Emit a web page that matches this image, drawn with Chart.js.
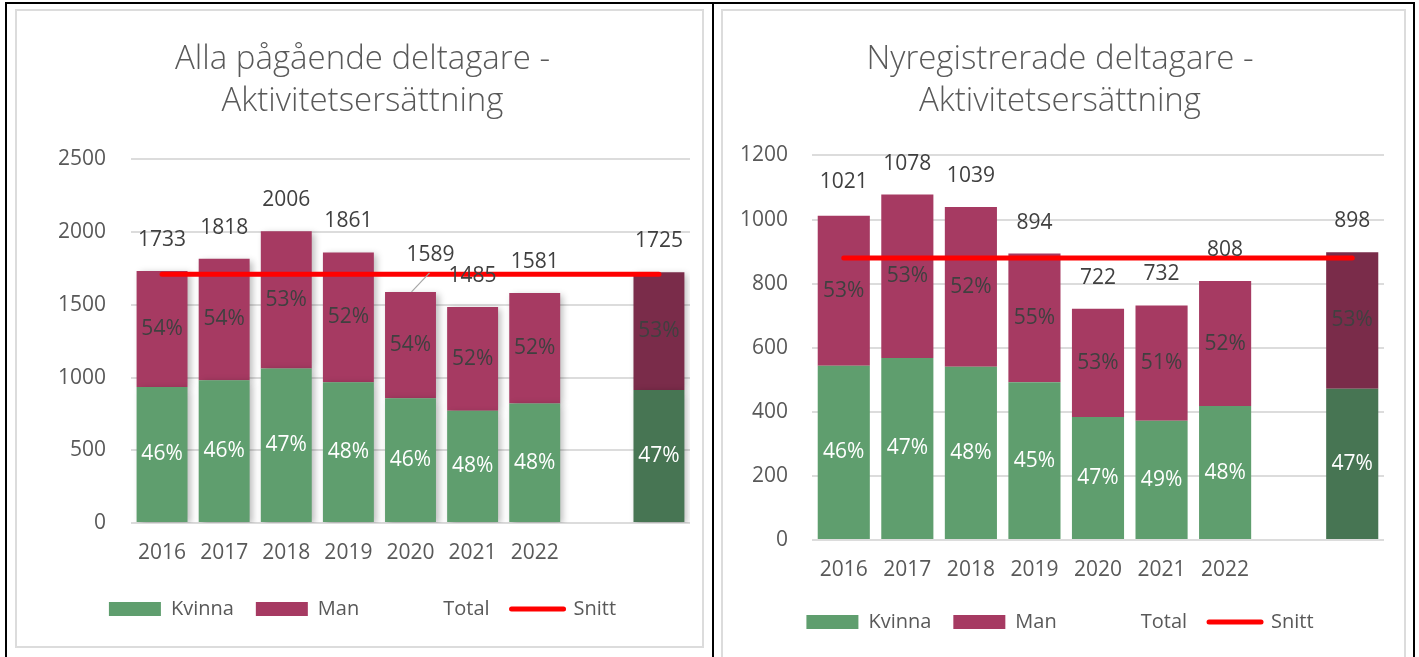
<!DOCTYPE html>
<html>
<head>
<meta charset="utf-8">
<script src="https://cdn.jsdelivr.net/npm/chart.js@4"></script>
<style>
html, body { margin: 0; padding: 0; background: #fff; overflow: hidden; width: 1419px; height: 657px; position: relative; }
.bl { position: absolute; background: #000; }
.box { position: absolute; border: 2px solid #dcdcdc; box-sizing: border-box; }
canvas { position: absolute; }
</style>
</head>
<body>
<div class="bl" style="left:5px;top:2px;width:1410px;height:2px"></div>
<div class="bl" style="left:5px;top:2px;width:2px;height:655px"></div>
<div class="bl" style="left:712px;top:2px;width:2px;height:655px"></div>
<div class="bl" style="left:1413px;top:2px;width:2px;height:655px"></div>
<div class="box" style="left:15px;top:9px;width:689px;height:639px"></div>
<div class="box" style="left:721px;top:9px;width:685px;height:670px"></div>
<canvas id="c1" width="687" height="637" style="left:16px;top:10px"></canvas>
<canvas id="c2" width="683" height="660" style="left:722px;top:10px"></canvas>
<script>
// categories (the last, unlabeled one is the average bar)
const years = ['2016', '2017', '2018', '2019', '2020', '2021', '2022', '', ''];

// Alla pågående deltagare
const kvinnaA = [936, 982, 1063, 968, 858, 772, 822, null, 914];
const manA = [797, 836, 943, 893, 731, 713, 759, null, 811];
const totalA = [1733, 1818, 2006, 1861, 1589, 1485, 1581, null, 1725];
const snittA = [1710, 1710, 1710, 1710, 1710, 1710, 1710, 1710, 1710];
const kvinnaPctA = ['46%', '46%', '47%', '48%', '46%', '48%', '48%', '', '47%'];
const manPctA = ['54%', '54%', '53%', '52%', '54%', '52%', '52%', '', '53%'];

// Nyregistrerade deltagare
const kvinnaN = [544, 568, 541, 492, 384, 372, 418, null, 472];
const manN = [468, 510, 498, 402, 338, 360, 390, null, 426];
const totalN = [1021, 1078, 1039, 894, 722, 732, 808, null, 898];
const snittN = [880, 880, 880, 880, 880, 880, 880, 880, 880];
const kvinnaPctN = ['46%', '47%', '48%', '45%', '47%', '49%', '48%', '', '47%'];
const manPctN = ['53%', '53%', '52%', '55%', '53%', '51%', '52%', '', '53%'];

const GREEN = '#5F9E6E', GREEN_DARK = '#477553';
const MAROON = '#A63A62', MAROON_DARK = '#7A2C4A';
const FONT = 'Open Sans';

const legendColors = { Kvinna: GREEN, Man: MAROON, Total: 'rgba(0,0,0,0)', Snitt: '#FF0000' };

const labelPlugin = {
  id: 'barLabels',
  afterDatasetsDraw(chart, args, opts) {
    const ctx = chart.ctx;
    const ys = chart.scales.y, xs = chart.scales.x;
    ctx.save();
    ctx.font = '21px "' + FONT + '"';
    ctx.textAlign = 'center';
    ctx.textBaseline = 'middle';
    [[0, opts.kvPct, '#ffffff'], [1, opts.manPct, '#404040']].forEach(([di, txt, col]) => {
      chart.getDatasetMeta(di).data.forEach((bar, i) => {
        if (!txt[i]) return;
        ctx.fillStyle = col;
        ctx.fillText(txt[i], bar.x, (bar.y + bar.base) / 2);
      });
    });
    opts.totals.forEach((v, i) => {
      if (v == null) return;
      const x = xs.getPixelForValue(i);
      const top = ys.getPixelForValue(v);
      const sh = (opts.shift && opts.shift[i]) || [0, 0];
      const lx = x + sh[0], ly = top - 31 + sh[1];
      if (sh[0]) {
        ctx.strokeStyle = '#a6a6a6';
        ctx.lineWidth = 1.2;
        ctx.beginPath();
        ctx.moveTo(x + 1, top);
        ctx.lineTo(lx - 1, ly + 18);
        ctx.stroke();
      }
      ctx.fillStyle = '#404040';
      ctx.fillText(String(v), lx, ly);
    });
    ctx.restore();
  }
};

const shadowPlugin = {
  id: 'barShadow',
  beforeDatasetDraw(chart, args) {
    if (args.meta.type !== 'bar') return;
    const ctx = chart.ctx;
    ctx.save();
    ctx.shadowColor = 'rgba(0,0,0,0.28)';
    ctx.shadowBlur = 7;
    ctx.shadowOffsetX = 3;
    ctx.shadowOffsetY = 2;
  },
  afterDatasetDraw(chart, args) {
    if (args.meta.type !== 'bar') return;
    chart.ctx.restore();
  }
};

function makeChart(id, o) {
  const ctx = document.getElementById(id).getContext('2d');
  return new Chart(ctx, {
    type: 'bar',
    data: {
      labels: years,
      datasets: [
        {
          label: 'Kvinna', data: o.kvinna, stack: 'bars', order: 1,
          backgroundColor: [GREEN, GREEN, GREEN, GREEN, GREEN, GREEN, GREEN, GREEN, GREEN_DARK],
          barPercentage: 0.82, categoryPercentage: 1
        },
        {
          label: 'Man', data: o.man, stack: 'bars', order: 1,
          backgroundColor: [MAROON, MAROON, MAROON, MAROON, MAROON, MAROON, MAROON, MAROON, MAROON_DARK],
          barPercentage: 0.82, categoryPercentage: 1
        },
        {
          type: 'line', label: 'Total', data: o.total, stack: 'total', order: 2,
          showLine: false, pointRadius: 0, borderWidth: 0, borderColor: 'rgba(0,0,0,0)'
        },
        {
          type: 'line', label: 'Snitt', data: o.snitt, stack: 'snitt', order: 0,
          borderColor: '#FF0000', borderWidth: 5, pointRadius: 0, borderCapStyle: 'round',
          spanGaps: true
        }
      ]
    },
    options: {
      responsive: false,
      animation: false,
      layout: { padding: { left: o.padLeft, right: o.padRight, top: 0, bottom: o.padBottom } },
      plugins: {
        title: {
          display: true,
          text: o.title,
          color: '#595959',
          font: { family: FONT, size: 33, weight: '300', lineHeight: 1.28 },
          padding: { top: 28, bottom: o.titleGap }
        },
        legend: {
          position: 'bottom',
          labels: {
            usePointStyle: true,
            pointStyleWidth: 52,
            boxHeight: 14,
            padding: 22,
            color: '#595959',
            font: { family: FONT, size: 20 },
            generateLabels: chart => chart.data.datasets.map((ds, i) => ({
              text: ds.label,
              datasetIndex: i,
              fontColor: '#595959',
              fillStyle: legendColors[ds.label],
              strokeStyle: legendColors[ds.label],
              lineWidth: ds.label === 'Snitt' ? 5 : 0,
              lineCap: 'round',
              pointStyle: ds.label === 'Snitt' ? 'line' : 'rect',
              hidden: false
            }))
          }
        },
        tooltip: { enabled: false },
        barLabels: { kvPct: o.kvPct, manPct: o.manPct, totals: o.total, shift: o.shift }
      },
      scales: {
        x: {
          stacked: true,
          grid: { display: false },
          border: { display: false },
          ticks: { color: '#595959', font: { family: FONT, size: 21 }, padding: 9, maxRotation: 0, autoSkip: false },
          afterFit: s => { s.height = o.xHeight; }
        },
        y: {
          stacked: true,
          min: 0,
          max: o.max,
          grid: { color: '#dcdcdc', lineWidth: 2, drawTicks: false },
          border: { display: false },
          ticks: {
            stepSize: o.step, color: '#595959', font: { family: FONT, size: 21 }, padding: o.yPad,
            callback: v => String(v)
          },
          afterFit: s => { s.width = o.yWidth; }
        }
      }
    },
    plugins: o.plugins
  });
}

makeChart('c1', {
  title: ['Alla pågående deltagare -', 'Aktivitetsersättning'],
  kvinna: kvinnaA, man: manA, total: totalA, snitt: snittA,
  kvPct: kvinnaPctA, manPct: manPctA,
  shift: { 4: [20, -6] },
  max: 2500, step: 500,
  padLeft: 19, padRight: 13, padBottom: 18, titleGap: 37, xHeight: 54, yWidth: 96, yPad: 25,
  plugins: [shadowPlugin, labelPlugin]
});

makeChart('c2', {
  title: ['Nyregistrerade deltagare -', 'Aktivitetsersättning'],
  kvinna: kvinnaN, man: manN, total: totalN, snitt: snittN,
  kvPct: kvinnaPctN, manPct: manPctN,
  shift: null,
  max: 1200, step: 200,
  padLeft: 14, padRight: 21, padBottom: 28, titleGap: 33, xHeight: 50, yWidth: 76, yPad: 24,
  plugins: [labelPlugin]
});
</script>
</body>
</html>
